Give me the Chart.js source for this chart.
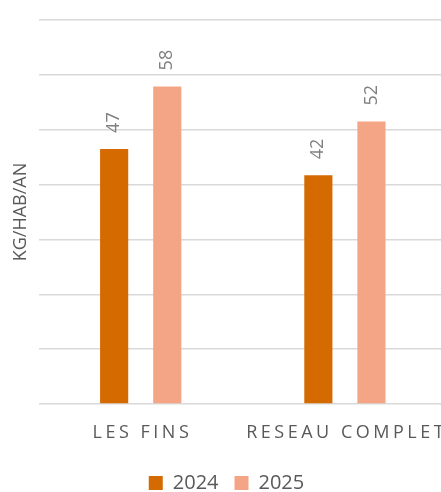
<!DOCTYPE html>
<html>
<head>
<meta charset="utf-8">
<script src="https://cdn.jsdelivr.net/npm/chart.js@4/dist/chart.umd.min.js"></script>
<style>
  html, body { margin: 0; padding: 0; background: #fff; overflow: hidden; width: 441px; height: 492px; }
  #chart { display: block; }
</style>
</head>
<body>
<canvas id="chart" width="455" height="503"></canvas>
<script>
const categories = ['LES FINS', 'RESEAU COMPLET'];
const seriesNames = ['2024', '2025'];
// bar heights, labels show them rounded
const values2024 = [46.5, 41.7];
const values2025 = [57.9, 51.5];
const yTicks = [0, 10, 20, 30, 40, 50, 60, 70];

const FONT = '"Open Sans", "Liberation Sans", sans-serif';

// value labels above the bars, written upwards
const barLabels = {
    id: 'barLabels',
    afterDatasetsDraw(chart) {
        const ctx = chart.ctx;
        ctx.save();
        ctx.font = '18px ' + FONT;
        ctx.fillStyle = '#7f7f7f';
        ctx.textAlign = 'left';
        ctx.textBaseline = 'middle';
        chart.data.datasets.forEach((ds, i) => {
            chart.getDatasetMeta(i).data.forEach((bar, j) => {
                ctx.save();
                ctx.translate(bar.x, bar.y - 16);
                ctx.rotate(-Math.PI / 2);
                ctx.fillText(String(Math.round(ds.data[j])), 0, 0);
                ctx.restore();
            });
        });
        ctx.restore();
    }
};

// category names with wide letter spacing
const spacedLabels = {
    id: 'spacedLabels',
    afterDraw(chart) {
        const ctx = chart.ctx;
        const xs = chart.scales.x;
        const spacing = 3.5;
        ctx.save();
        ctx.font = '18px ' + FONT;
        ctx.fillStyle = '#595959';
        ctx.letterSpacing = spacing + 'px';
        ctx.textAlign = 'center';
        ctx.textBaseline = 'alphabetic';
        categories.forEach((c, i) => {
            ctx.fillText(c, xs.getPixelForTick(i) + spacing / 2, xs.top + 34);
        });
        ctx.restore();
    }
};

new Chart(document.getElementById('chart'), {
    type: 'bar',
    data: {
        labels: categories,
        datasets: [{
            label: seriesNames[0],
            data: values2024,
            backgroundColor: '#d46a00',
            categoryPercentage: 0.52,
            barPercentage: 0.53
        }, {
            label: seriesNames[1],
            data: values2025,
            backgroundColor: '#f4a586',
            categoryPercentage: 0.52,
            barPercentage: 0.53
        }]
    },
    options: {
        responsive: false,
        animation: false,
        layout: { padding: { left: 6, right: 8, top: 20, bottom: 0 } },
        scales: {
            x: {
                grid: { display: false },
                border: { display: false },
                ticks: { display: false },
                afterFit(scale) { scale.height = 53; }
            },
            y: {
                min: yTicks[0],
                max: yTicks[yTicks.length - 1],
                afterBuildTicks(axis) { axis.ticks = yTicks.map(v => ({ value: v })); },
                ticks: { display: false },
                grid: { color: '#d9d9d9', lineWidth: 1.5, drawTicks: false },
                border: { display: false },
                title: {
                    display: true,
                    text: 'KG/HAB/AN',
                    color: '#595959',
                    font: { size: 18, family: FONT },
                    padding: { top: 4, bottom: 7 }
                }
            }
        },
        plugins: {
            legend: {
                position: 'bottom',
                labels: {
                    boxWidth: 14,
                    boxHeight: 14,
                    padding: 16,
                    color: '#595959',
                    font: { size: 20, family: FONT }
                }
            },
            tooltip: { enabled: false }
        }
    },
    plugins: [barLabels, spacedLabels]
});
</script>
</body>
</html>
